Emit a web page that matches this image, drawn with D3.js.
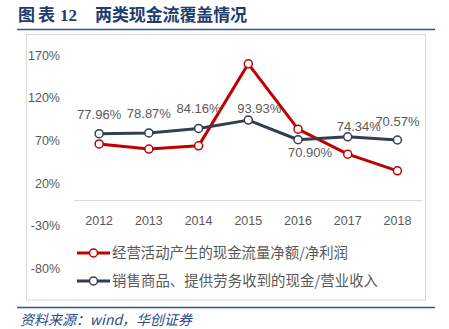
<!DOCTYPE html>
<html><head><meta charset="utf-8">
<script src="https://cdn.jsdelivr.net/npm/d3@7"></script>
<style>body{margin:0;background:#fff;} svg{display:block;}</style>
</head><body>
<script>
const years = ["2012","2013","2014","2015","2016","2017","2018"];
const opCashRatio = [66, 60, 63.7, 160, 83.3, 54, 34.4];
const salesCashRatio = [77.96, 78.87, 84.16, 93.93, 70.90, 74.34, 70.57];
const salesLabels = ["77.96%","78.87%","84.16%","93.93%","70.90%","74.34%","70.57%"];
const yTicks = [170, 120, 70, 20, -30, -80];
const seriesNames = ["经营活动产生的现金流量净额/净利润", "销售商品、提供劳务收到的现金/营业收入"];
const titleText = "图表";
const titleNum = "12";
const titleMain = "两类现金流覆盖情况";
const sourceText = "资料来源：wind，华创证券";

const W = 449, H = 329;
const svg = d3.select("body").append("svg").attr("width", W).attr("height", H);
const numFont = "'Liberation Sans', 'Noto Sans', sans-serif";
const cjk = "'Noto Sans CJK SC', sans-serif";
const titleCol = "#1f3c6e";

// header
function ttl(txt, x0, len, fam, fs) {
  svg.append("text").attr("x", x0).attr("y", 21).attr("font-family", fam).attr("font-weight", "bold")
    .attr("font-size", fs).attr("fill", titleCol)
    .attr("textLength", len).attr("lengthAdjust", "spacing").text(txt);
}
ttl(titleText, 18, 37, cjk, 17);
ttl(titleNum, 60, 17, "'Liberation Serif', serif", 17);
ttl(titleMain, 95, 152, cjk, 17);
svg.append("line").attr("x1", 17).attr("x2", 435).attr("y1", 29.5).attr("y2", 29.5)
  .attr("stroke", "#2b5797").attr("stroke-width", 1.5);
svg.append("rect").attr("x", 26.5).attr("y", 34.5).attr("width", 399).attr("height", 265.5)
  .attr("fill", "#fff").attr("stroke", "#d9d9d9");
svg.append("line").attr("x1", 17).attr("x2", 435).attr("y1", 307.5).attr("y2", 307.5)
  .attr("stroke", "#2b5797").attr("stroke-width", 1.5);
svg.append("text").attr("x", 20).attr("y", 325).attr("font-family", cjk).attr("font-style", "italic")
  .attr("font-size", 14).attr("fill", "#2a4a85")
  .attr("textLength", 172).attr("lengthAdjust", "spacing").text(sourceText);

const x = d3.scaleBand().domain(years).range([74.3, 422.3]);
const y = d3.scaleLinear().domain([-80, 170]).range([268.3, 55.3]);
const cx = d => x(d) + x.bandwidth() / 2;

// y axis labels
svg.append("g").selectAll("text").data(yTicks).join("text")
  .attr("x", 60).attr("y", d => y(d) + 4.5).attr("text-anchor", "end")
  .attr("font-family", numFont).attr("font-size", 12.5).attr("fill", "#595959")
  .text(d => d + "%");

// x axis line
svg.append("line").attr("x1", x.range()[0]).attr("x2", x.range()[1])
  .attr("y1", Math.round(y(0)) + 0.5).attr("y2", Math.round(y(0)) + 0.5)
  .attr("stroke", "#d9d9d9").attr("stroke-width", 1);
svg.append("g").selectAll("text").data(years).join("text")
  .attr("x", d => cx(d)).attr("y", 225).attr("text-anchor", "middle")
  .attr("font-family", numFont).attr("font-size", 12.5).attr("fill", "#595959").text(d => d);

const line = d3.line().x((d, i) => cx(years[i])).y(d => y(d));
function drawSeries(vals, color) {
  svg.append("path").datum(vals).attr("d", line).attr("fill", "none")
    .attr("stroke", color).attr("stroke-width", 3).attr("stroke-linejoin", "round");
  svg.append("g").selectAll("circle").data(vals).join("circle")
    .attr("cx", (d, i) => cx(years[i])).attr("cy", d => y(d)).attr("r", 4)
    .attr("fill", "#fff").attr("stroke", color).attr("stroke-width", 1.5);
}
const red = "#c00000", navy = "#333f50";
drawSeries(opCashRatio, red);
drawSeries(salesCashRatio, navy);

// data labels (placement offsets)
const labelDx = [0, 0, 0, 11, 12, 11, 0];
const labelDy = [-15, -15, -15, -7.5, 17, -6, -14];
svg.append("g").selectAll("text").data(salesCashRatio).join("text")
  .attr("x", (d, i) => cx(years[i]) + labelDx[i]).attr("y", (d, i) => y(d) + labelDy[i])
  .attr("text-anchor", "middle").attr("font-family", numFont).attr("font-size", 13)
  .attr("fill", "#595959").text((d, i) => salesLabels[i]);

// legend
const legendLens = [236, 266];
const lg = svg.append("g");
[red, navy].forEach((c, i) => {
  const ly = 253 + i * 28;
  lg.append("line").attr("x1", 77).attr("x2", 110).attr("y1", ly).attr("y2", ly)
    .attr("stroke", c).attr("stroke-width", 3);
  lg.append("circle").attr("cx", 93.5).attr("cy", ly).attr("r", 4)
    .attr("fill", "#fff").attr("stroke", c).attr("stroke-width", 1.5);
  lg.append("text").attr("x", 112).attr("y", ly + 5).attr("font-family", cjk)
    .attr("font-size", 14.4).attr("fill", "#595959")
    .attr("textLength", legendLens[i]).attr("lengthAdjust", "spacing").text(seriesNames[i]);
});
</script>
</body></html>
